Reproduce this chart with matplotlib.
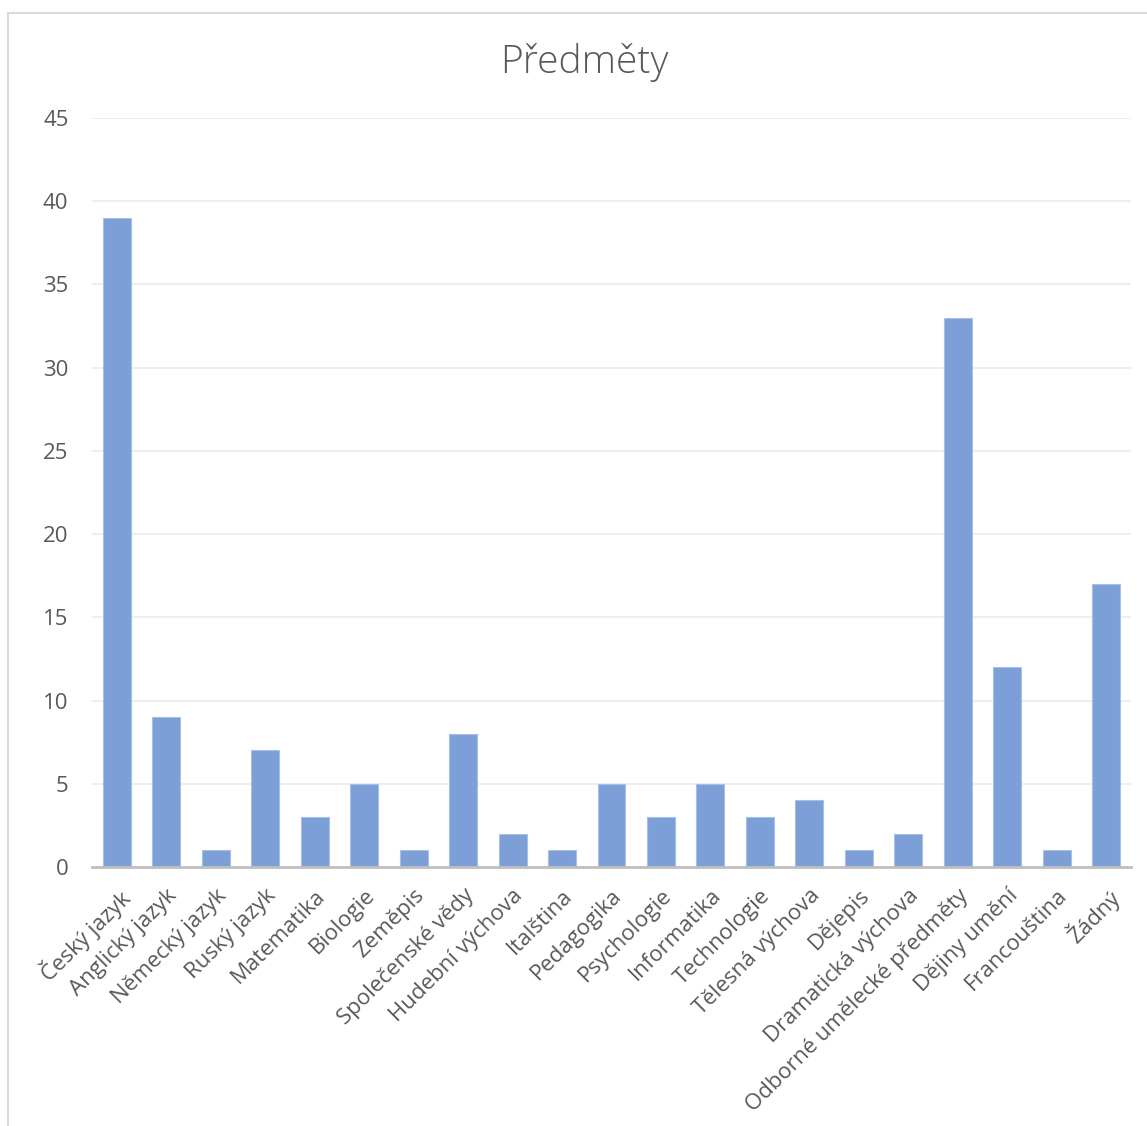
import matplotlib.pyplot as plt
from matplotlib.patches import Rectangle

categories = ["Český jazyk", "Anglický jazyk", "Německý jazyk", "Ruský jazyk", "Matematika",
              "Biologie", "Zeměpis", "Společenské vědy", "Hudební výchova", "Italština",
              "Pedagogika", "Psychologie", "Informatika", "Technologie", "Tělesná výchova",
              "Dějepis", "Dramatická výchova", "Odborné umělecké předměty", "Dějiny umění",
              "Francouština", "Žádný"]
values = [39, 9, 1, 7, 3, 5, 1, 8, 2, 1, 5, 3, 5, 3, 4, 1, 2, 33, 12, 1, 17]

plt.rcParams['font.family'] = ['Open Sans', 'DejaVu Sans']
text_col = '#595959'

fig = plt.figure(figsize=(11.47, 11.26), dpi=100)
# chart area frame like Excel
fig.patches.append(Rectangle((8 / 1147, -0.01), 1.2, 1 - 13 / 1126 + 0.01, transform=fig.transFigure,
                             fill=False, edgecolor='#D9D9D9', linewidth=1.5))
ax = fig.add_axes([92 / 1147, 1 - 867 / 1126, (1131 - 92) / 1147, (867 - 118) / 1126])

x = range(len(categories))
ax.bar(x, values, width=0.565, color='#7C9FD7', edgecolor='#A9C0E6', linewidth=0.8, zorder=3)

ax.set_ylim(0, 45)
ax.set_xlim(-0.5, len(categories) - 0.5)
ax.set_yticks(range(0, 46, 5))
ax.yaxis.grid(True, color='#EBEBEB', linewidth=1.2, zorder=0)
for s in ['top', 'right', 'left']:
    ax.spines[s].set_visible(False)
ax.spines['bottom'].set_color('#BFBFBF')
ax.spines['bottom'].set_linewidth(2)
ax.spines['bottom'].set_zorder(4)

ax.set_xticks(list(x))
ax.set_xticklabels(categories, rotation=45, ha='right', rotation_mode='anchor')
ax.tick_params(axis='x', length=0, pad=13, labelsize=16, labelcolor=text_col)
ax.tick_params(axis='y', length=0, pad=17, labelsize=16, labelcolor=text_col)

fig.text(584 / 1147, 1 - 62 / 1126, "Předměty", ha='center', va='center', fontsize=28,
         color=text_col, fontweight='light')

fig.savefig("out.png", dpi=100)
